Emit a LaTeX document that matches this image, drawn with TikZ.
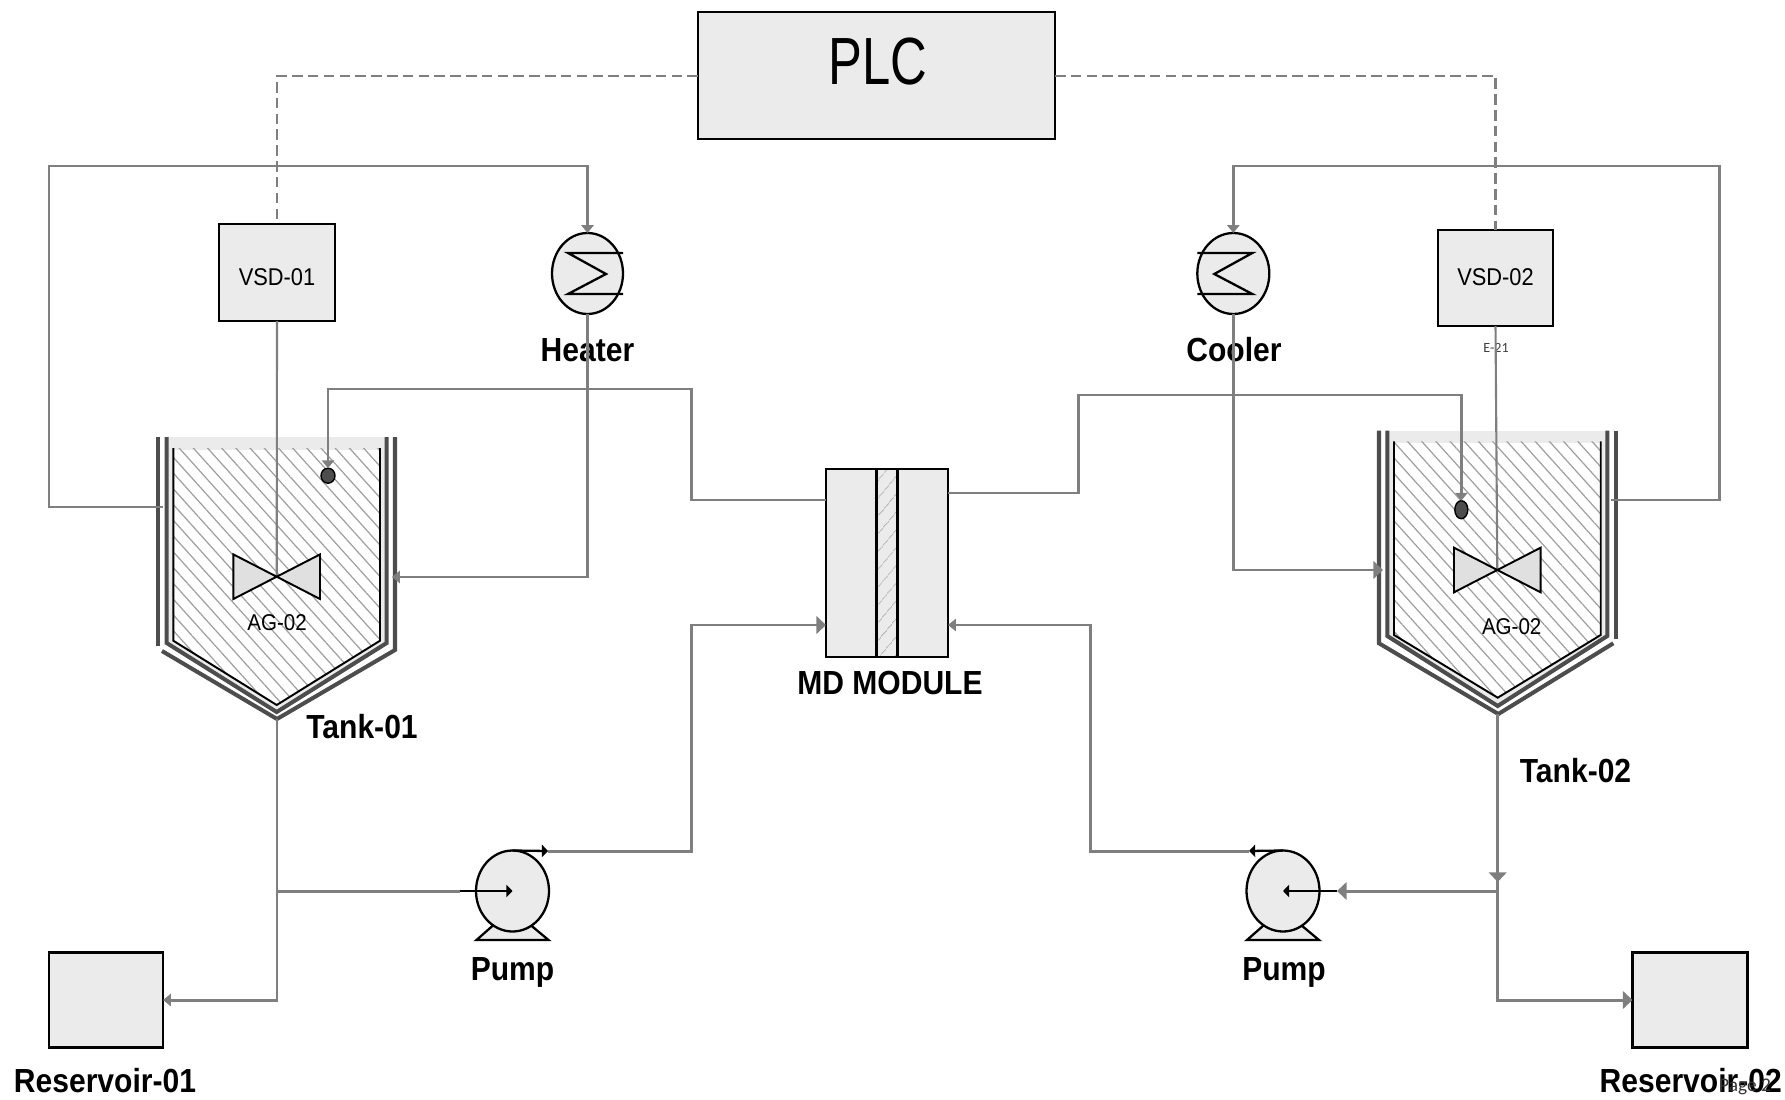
\documentclass[tikz,border=0pt]{standalone}
\usepackage{fontspec}
\setmainfont[FakeStretch=0.9]{Liberation Sans}
\newfontfamily\narrowfont[FakeStretch=0.76]{Liberation Sans}
\newfontfamily\smallfont{Carlito}
\usetikzlibrary{positioning,arrows.meta,calc,shapes.geometric,patterns.meta}
\definecolor{pipegray}{HTML}{7F7F7F}
\definecolor{boxgray}{HTML}{EBEBEB}
\definecolor{jacketgray}{HTML}{4D4D4D}

\tikzset{
  pipe/.style={draw=pipegray, fill=pipegray, line width=1.7pt, -{Triangle[length=5.5pt,width=10pt]}},
  small pipe/.style={draw=pipegray, line width=1.7pt, -{Triangle[length=4.5pt,width=7pt]}},
  plainpipe/.style={draw=pipegray, line width=1.7pt},
  signal/.style={draw=pipegray, line width=1.2pt, dash pattern=on 6pt off 3pt},
  stub/.style={draw=black, line width=1.3pt, -{Triangle[length=3.5pt,width=7pt]}},
  unitbox/.style={draw=black, fill=boxgray, line width=1.3pt, inner sep=0pt, outer sep=0pt},
  round unit/.style={ellipse, draw=black, fill=boxgray, line width=1.3pt, inner sep=0pt, outer sep=0pt},
  sensor/.style={ellipse, draw=black, fill=jacketgray, line width=0.8pt, inner sep=0pt, outer sep=0pt},
  jacket/.style={draw=jacketgray, line width=2.3pt},
  hatch/.style={pattern={Lines[angle=-48,distance=6pt,line width=0.7pt]}, pattern color=gray!75},
  tag/.style={font=\fontsize{19}{21}\bfseries},
  thin tag/.style={font=\fontsize{13.8}{15}\selectfont},
  agitator tag/.style={font=\fontsize{13}{15}\selectfont}
}

\begin{document}
\begin{tikzpicture}[x=0.2mm, y=-0.2mm]
  \useasboundingbox (0,0) rectangle (1785,1100);

  % labels go first, the pipes run over them
  \node[tag] (heatertag) at (587.5,350) {Heater};
  \node[tag] (coolertag) at (1234,350) {Cooler};
  \node[font=\smallfont\fontsize{8}{9}\selectfont, text=black!75] (etag) at (1496,348) {E-21};

  % control boxes
  \node[unitbox, minimum width=71.4mm, minimum height=25.4mm] (plc) at (876.5,75.5) {};
  \node[font=\narrowfont\fontsize{38}{40}\selectfont] (plctag) at (878,62) {PLC};
  \node[unitbox, minimum width=23.2mm, minimum height=19.4mm] (vsdone) at (277,272.5) {};
  \node[thin tag] (vsdonetag) at (277,277) {VSD-01};
  \node[unitbox, minimum width=23mm, minimum height=19.2mm] (vsdtwo) at (1495.5,278) {};
  \node[thin tag] (vsdtwotag) at (1495.5,277) {VSD-02};

  % tank 1
  \fill[boxgray] (166,437) rectangle (388,450);
  \fill[boxgray] (173,448) -- (173,641) -- (277,705) -- (380,641) -- (380,448) -- (386,448) -- (386,643) -- (277,711) -- (167,643) -- (167,448) -- cycle;
  \path[hatch] (173.3,448) -- (173.3,640.7) -- (276.7,705) -- (380,640.7) -- (380,448) -- cycle;
  \draw[jacket] (158,437) -- (158,646);
  \draw[jacket] (162,651) -- (277,719) -- (395,650) -- (395,437);
  \draw[jacket] (166.7,437) -- (166.7,643) -- (276.7,712) -- (386.7,643) -- (386.7,437);
  \draw[draw=black, line width=1.1pt] (173.3,448) -- (173.3,640.7) -- (276.7,705) -- (380,640.7) -- (380,448);
  \node[agitator tag] (agone) at (277,623) {AG-02};
  \node[tag] (tankone) at (362,727) {Tank-01};

  % tank 2
  \fill[boxgray] (1387,431) rectangle (1609,443);
  \fill[boxgray] (1394,441) -- (1394,635) -- (1498,698) -- (1601,635) -- (1601,441) -- (1607,441) -- (1607,636) -- (1498,704) -- (1387,636) -- (1387,441) -- cycle;
  \path[hatch] (1394,441.3) -- (1394,635) -- (1497.7,697.7) -- (1600.7,635) -- (1600.7,441.3) -- cycle;
  \draw[jacket] (1379,430.7) -- (1379,643.3) -- (1498.3,714) -- (1613.3,643.3);
  \draw[jacket] (1616,430.7) -- (1616,639.3);
  \draw[jacket] (1387.3,430.7) -- (1387.3,636) -- (1497.7,706) -- (1607.3,636) -- (1607.3,430.7);
  \draw[draw=black, line width=1.1pt] (1394,441.3) -- (1394,635) -- (1497.7,697.7) -- (1600.7,635) -- (1600.7,441.3);
  \node[agitator tag] (agtwo) at (1511.7,626.7) {AG-02};
  \node[tag] (tanktwo) at (1575.5,771) {Tank-02};

  % named ends on the vessels
  \coordinate (jacketoneL) at (163,507);
  \coordinate (jacketoneR) at (392,577);
  \coordinate (jackettwoL) at (1383,570);
  \coordinate (jackettwoR) at (1611,500);
  \coordinate (bottomone) at (277,719);
  \coordinate (bottomtwo) at (1497.7,714);
  \coordinate (agonehub) at (276.7,576.7);
  \coordinate (agtwohub) at (1497.3,570);
  \coordinate (junctionone) at (277,891);
  \coordinate (junctiontwo) at (1497.7,891);

  % heat exchangers
  \node[round unit, minimum width=14.2mm, minimum height=16.2mm] (heater) at (587.5,273.5) {};
  \node[round unit, minimum width=14.4mm, minimum height=16.2mm] (cooler) at (1233.3,273.5) {};
  \draw[line width=1.3pt] (623,253) -- (568,253) -- (606,274) -- (568,294) -- (623,294);
  \draw[line width=1.3pt] (1197.3,253) -- (1252.3,253) -- (1214.3,274) -- (1252.3,294) -- (1197.3,294);

  % sensors
  \node[sensor, minimum width=2.8mm, minimum height=3mm] (sensorone) at (328,475.7) {};
  \node[sensor, minimum width=2.6mm, minimum height=3.6mm] (sensortwo) at (1461.3,509.7) {};

  % module
  \node[unitbox, minimum width=24.4mm, minimum height=37.6mm] (module) at (887,563) {};
  \node[unitbox, fill=white, minimum width=4.2mm, minimum height=37.6mm,
        pattern={Lines[angle=50,distance=6.5pt,line width=0.6pt]}, pattern color=gray!60] (membrane) at (887,563) {};
  \node[tag] (moduletag) at (890,683) {MD MODULE};

  % reservoirs
  \node[unitbox, minimum width=22.8mm, minimum height=19mm] (resone) at (106,1000) {};
  \node[unitbox, minimum width=23mm, minimum height=19mm] (restwo) at (1690,1000) {};
  \node[tag] (resonetag) at (105,1081) {Reservoir-01};
  \node[tag] (restwotag) at (1690.7,1081) {Reservoir-02};
  \node[font=\smallfont\fontsize{11}{12}\selectfont, text=black!80] (pagetag) at (1745,1087) {Page 2};

  % pumps
  \foreach \name/\xc in {pumpone/512.5, pumptwo/1283}{
    \fill[boxgray] ($(\xc,891)+(-19,34)$) -- ($(\xc,891)+(-36,49)$) -- ($(\xc,891)+(36,49)$) -- ($(\xc,891)+(18,34)$) -- cycle;
    \draw[line width=1.3pt] ($(\xc,891)+(-19,34)$) -- ($(\xc,891)+(-36,49)$) -- ($(\xc,891)+(36,49)$) -- ($(\xc,891)+(18,34)$);
    \node[round unit, minimum width=14.6mm, minimum height=16.2mm] (\name) at (\xc,891) {};
  }
  \node[tag] (pumponetag) at (512.5,972) {Pump};
  \node[tag] (pumptwotag) at (1284,972) {Pump};

  % signal lines
  \draw[signal] (plc.west |- 0,76) -| (vsdone.north);
  \draw[signal] (plc.east |- 0,76) -| (vsdtwo.north);

  % agitator shafts
  \draw[plainpipe, line width=1.2pt] (vsdone.south) -- (agonehub);
  \draw[plainpipe, line width=1.2pt] (vsdtwo.south) -- (agtwohub);
  \foreach \name/\xa/\ya in {agone/276.7/576.7, agtwo/1497.3/570}{
    \draw[fill=black!12, line width=1.1pt] (\xa-43.3,\ya-22.3) -- (\xa,\ya) -- (\xa-43.3,\ya+22.3) -- cycle;
    \draw[fill=black!12, line width=1.1pt] (\xa+43.3,\ya-22.3) -- (\xa,\ya) -- (\xa+43.3,\ya+22.3) -- cycle;
  }

  % hot side
  \draw[small pipe] (jacketoneL) -- (49,507) -- (49,166) -| (heater.north);
  \draw[small pipe] (heater.south) |- (jacketoneR);
  \draw[small pipe] (module.west |- 0,500) -- (691,500) -- (691,389) -| (sensorone.north);

  % cold side
  \draw[small pipe] (jackettwoR) -- (1719,500) -- (1719,166) -| (cooler.north);
  \draw[pipe, fill=none] (cooler.south) |- (jackettwoL);
  \draw[small pipe] (module.east |- 0,493) -- (1078,493) -- (1078,395) -| (sensortwo.north);

  % feed and drain tank 1
  \draw[small pipe] (bottomone) |- (resone.east);
  \draw[plainpipe] (junctionone) -- (460,891);
  \draw[stub] (460,891) -- (pumpone.center);
  \draw[stub] (pumpone.north) -- (548,851);
  \draw[pipe, fill=none] (548,851) -- (691,851) -- (691,625) -- (module.west |- 0,625);

  % feed and drain tank 2
  \draw[pipe, fill=none] (bottomtwo) -- (1497.7,882);
  \draw[plainpipe] (1497.7,880) -- (junctiontwo);
  \draw[pipe, fill=none] (junctiontwo) |- (restwo.west);
  \draw[pipe, fill=none] (junctiontwo) -- (1337,891);
  \draw[stub] (1337,891) -- (pumptwo.center);
  \draw[stub] (pumptwo.north) -- (1249,851);
  \draw[small pipe] (1249,851) -- (1090.6,851) -- (1090.6,625) -- (module.east |- 0,625);
\end{tikzpicture}
\end{document}
